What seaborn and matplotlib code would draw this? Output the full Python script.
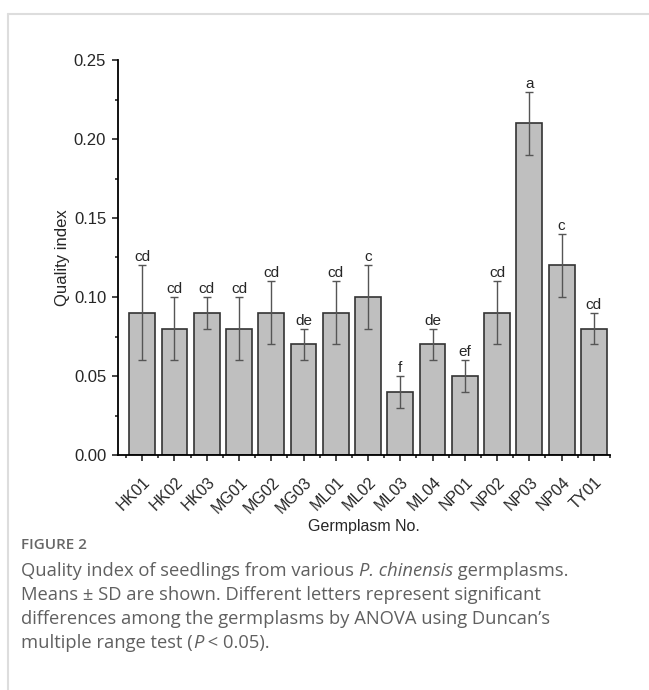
import numpy as np
import seaborn as sns
import matplotlib.pyplot as plt
import matplotlib.transforms as mtransforms
from matplotlib.ticker import MultipleLocator, FixedLocator
from matplotlib.lines import Line2D

germplasm = ["HK01", "HK02", "HK03", "MG01", "MG02", "MG03", "ML01", "ML02",
             "ML03", "ML04", "NP01", "NP02", "NP03", "NP04", "TY01"]
quality = [0.09, 0.08, 0.09, 0.08, 0.09, 0.07, 0.09, 0.10,
           0.04, 0.07, 0.05, 0.09, 0.21, 0.12, 0.08]
sd = [0.03, 0.02, 0.01, 0.02, 0.02, 0.01, 0.02, 0.02,
      0.01, 0.01, 0.01, 0.02, 0.02, 0.02, 0.01]
letters = ["cd", "cd", "cd", "cd", "cd", "de", "cd", "c",
           "f", "de", "ef", "cd", "a", "c", "cd"]

sns.set_style("ticks")
plt.rcParams['font.family'] = ['Liberation Sans', 'DejaVu Sans']

W, H = 649, 690
fig = plt.figure(figsize=(W / 100, H / 100), dpi=100)
ax = fig.add_axes([118 / W, 1 - 455 / H, (610 - 118) / W, (455 - 60) / H])

sns.barplot(x=germplasm, y=quality, color="#bfbfbf", edgecolor="#333333",
            linewidth=1.2, width=0.8, saturation=1, errorbar=None, ax=ax)
xs = np.arange(len(germplasm))
ax.errorbar(xs, quality, yerr=sd, fmt="none", ecolor="#555555",
            elinewidth=1, capsize=3, capthick=1)
for i in range(len(germplasm)):
    ax.text(xs[i], quality[i] + sd[i] + 0.0025, letters[i], ha="center",
            va="baseline", fontsize=11)

ax.set_xlim(-0.75, 14.5)
ax.set_ylim(0, 0.25)
ax.yaxis.set_major_locator(MultipleLocator(0.05))
ax.yaxis.set_minor_locator(MultipleLocator(0.025))
ax.xaxis.set_minor_locator(FixedLocator(np.arange(-0.5, 15, 1)))
ax.yaxis.set_major_formatter(plt.FuncFormatter(lambda v, p: "%.2f" % v))
ax.tick_params(which="major", direction="out", length=4.5, width=1.2, pad=4)
ax.tick_params(which="minor", direction="out", length=2.5, width=1.2)
ax.tick_params(axis="y", labelsize=12)
ax.tick_params(axis="x", labelsize=11.5)
shift = mtransforms.ScaledTranslation(0.06, -0.13, fig.dpi_scale_trans)
for lab in ax.get_xticklabels():
    lab.set_rotation(45)
    lab.set_ha("right")
    lab.set_va("center")
    lab.set_rotation_mode("anchor")
    lab.set_transform(lab.get_transform() + shift)
for s in ["left", "bottom"]:
    ax.spines[s].set_linewidth(1.3)
    ax.spines[s].set_color("black")
sns.despine(ax=ax)
ax.set_ylabel("Quality index", fontsize=12, va="center")
ax.yaxis.set_label_coords(-(118 - 62) / 492, 0.5)
ax.set_xlabel("Germplasm No.", fontsize=11.5, va="center")
ax.xaxis.set_label_coords(0.5, -(526 - 455) / 395)

# card border
fig.add_artist(Line2D([8 / W, 1], [1 - 14 / H, 1 - 14 / H], color="#dddddd", lw=1.5))
fig.add_artist(Line2D([8 / W, 8 / W], [0, 1 - 14 / H], color="#dddddd", lw=1.5))

# caption
cap_font = ['Open Sans', 'DejaVu Sans']
cap_color = "#606060"
cap_x = 21
fig.text(cap_x / W, 1 - 549 / H, "FIGURE 2", family=cap_font, color="#666666",
         fontsize=11, fontweight="semibold", va="baseline")

renderer = fig.canvas.get_renderer()


def caption_line(y, parts):
    x = cap_x / W
    for txt, italic in parts:
        t = fig.text(x, 1 - y / H, txt, family=cap_font, color=cap_color,
                     fontsize=13.2, va="baseline",
                     style="italic" if italic else "normal")
        bb = t.get_window_extent(renderer)
        x += bb.width / fig.bbox.width


caption_line(576, [("Quality index of seedlings from various ", False),
                   ("P. chinensis", True), (" germplasms.", False)])
caption_line(600, [("Means \u00b1 SD are shown. Different letters represent significant", False)])
caption_line(624, [("differences among the germplasms by ANOVA using Duncan\u2019s", False)])
caption_line(648, [("multiple range test (", False), ("P", True), (" < 0.05).", False)])

fig.savefig("out.png", dpi=100)
